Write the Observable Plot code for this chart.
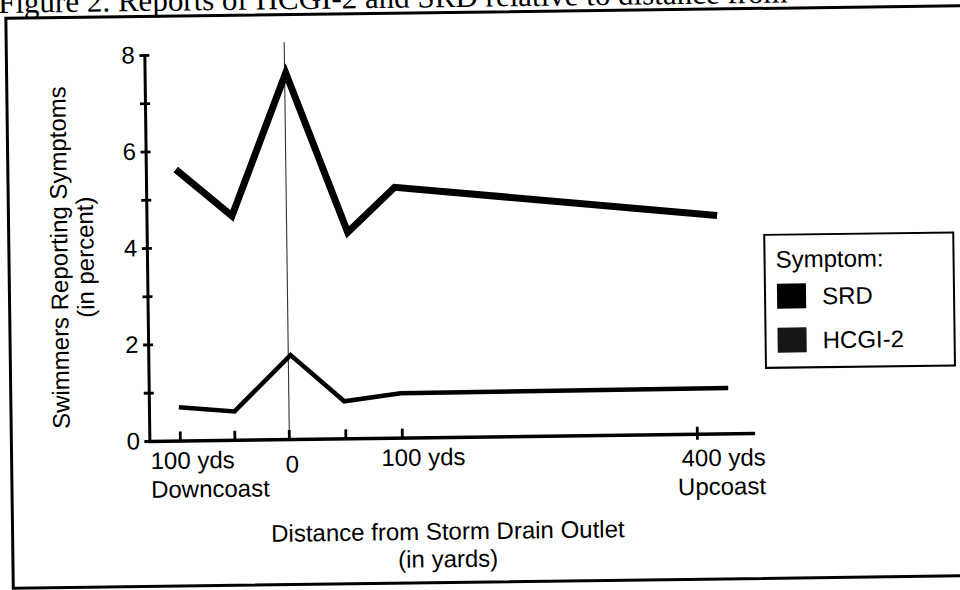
<!DOCTYPE html>
<html>
<head>
<meta charset="utf-8">
<script src="https://cdn.jsdelivr.net/npm/d3@7"></script>
<script src="https://cdn.jsdelivr.net/npm/@observablehq/plot@0.6"></script>
<style>
  html, body { margin: 0; padding: 0; background: #fff; overflow: hidden; width: 960px; height: 590px; }
  #wrap { position: relative; width: 960px; height: 590px; transform-origin: 450px 295px; transform: rotate(-0.75deg);
          font-family: "Liberation Sans", Arial, sans-serif; color: #000; }
  #title { position: absolute; left: 2px; top: -19px; font-family: "Liberation Serif", serif; font-size: 31px;
           line-height: 31px; white-space: nowrap; }
  #box { position: absolute; left: 8px; top: 11px; width: 990px; height: 573px; border: 3px solid #000; box-sizing: border-box; }
  #chart { position: absolute; left: 0; top: 0; }
  #legend { position: absolute; left: 764px; top: 238px; width: 191px; height: 135px; border: 2.5px solid #000;
            box-sizing: border-box; background: #fff; font-size: 24px; }
  #legend .lt { position: absolute; left: 10px; top: 12px; line-height: 24px; }
  #legend .sw { position: absolute; left: 11px; width: 29px; height: 25px; }
  #legend .lb { position: absolute; left: 56px; line-height: 24px; }
</style>
</head>
<body>
<div id="wrap">
  <div id="title"></div>
  <div id="box"></div>
  <div id="chart"></div>
  <div id="legend"></div>
</div>
<script>
// ---- data ----
const figureTitle = "Figure 2.  Reports of HCGI-2 and SRD relative to distance from";
const seriesNames = ["SRD", "HCGI-2"];
const swatchColors = ["#000000", "#161616"];
const srdDistance = [-101, -50, 1, 54, 96, 423];
const srdPercent = [5.63, 4.65, 7.6, 4.28, 5.2, 4.53];
const hcgiDistance = [-101, -50, 2, 49, 99, 432];
const hcgiPercent = [0.7, 0.6, 1.75, 0.78, 0.93, 0.95];
const yTickValues = [0, 1, 2, 3, 4, 5, 6, 7, 8];
const yLabelValues = [0, 2, 4, 6, 8];
const xTickValues = [-100, -50, 0, 50, 100];
const xMajorTick = [400];
const xLabelValues = [-100, 0, 100, 400];
const xLabelTexts = ["100 yds\nDowncoast", "0", "100 yds", "400 yds\nUpcoast"];
const outletDistance = [0];
const yTitle = "Swimmers Reporting Symptoms\n(in percent)";
const xTitle = "Distance from Storm Drain Outlet\n(in yards)";
const legendTitle = "Symptom:";

// ---- tables built from the arrays ----
const srdRows = srdDistance.map((d, i) => ({symptom: seriesNames[0], distance: d, percent: srdPercent[i]}));
const hcgiRows = hcgiDistance.map((d, i) => ({symptom: seriesNames[1], distance: d, percent: hcgiPercent[i]}));
const xLabelRows = xLabelValues.map((v, i) => ({distance: v, label: xLabelTexts[i]}));

document.getElementById("title").textContent = figureTitle;

const labelBase = {x: "distance", text: "label", frameAnchor: "bottom", lineAnchor: "top", lineHeight: 1.2, fontSize: 24};

const chart = Plot.plot({
  width: 960,
  height: 590,
  marginLeft: 147.5,
  marginRight: 209,
  marginTop: 51,
  marginBottom: 153,
  style: {fontFamily: "'Liberation Sans', Arial, sans-serif", fontSize: "24px", background: "transparent", color: "#000"},
  x: {type: "linear", domain: [-100, 0, 100, 400], range: [178, 287, 400, 695]},
  y: {domain: [0, 8]},
  marks: [
    Plot.ruleX(outletDistance, {stroke: "#333", strokeWidth: 1.1, insetTop: -11}),
    Plot.frame({anchor: "left", strokeWidth: 3}),
    Plot.frame({anchor: "bottom", strokeWidth: 3.5}),
    Plot.axisY(yTickValues, {tickSize: 10, dx: 5, fill: "none", label: null, strokeWidth: 2.8}),
    Plot.axisY(yLabelValues, {tickSize: 0, tickPadding: 10, label: null, fontSize: 24}),
    Plot.axisX(xTickValues, {tickSize: 9, dy: -9, fill: "none", label: null, strokeWidth: 2.8}),
    Plot.axisX(xMajorTick, {tickSize: 13, dy: -7, fill: "none", label: null, strokeWidth: 2.8}),
    Plot.text(xLabelRows.slice(0, 1), {...labelBase, textAnchor: "start", dx: -30, dy: 7.2}),
    Plot.text(xLabelRows.slice(1, 2), {...labelBase, textAnchor: "middle", dx: 2.7, dy: 12.5}),
    Plot.text(xLabelRows.slice(2, 3), {...labelBase, textAnchor: "middle", dx: 20.8, dy: 7.2}),
    Plot.text(xLabelRows.slice(3, 4), {...labelBase, textAnchor: "end", dx: 68, dy: 11.5}),
    Plot.text([yTitle], {text: d => d, frameAnchor: "left", textAnchor: "middle", lineAnchor: "middle", rotate: -90,
                         lineHeight: 26 / 24, fontSize: 24, dx: -75.3, dy: 8}),
    Plot.text([xTitle], {text: d => d, frameAnchor: "bottom", textAnchor: "middle", lineAnchor: "top",
                         lineHeight: 1.15, fontSize: 24, dx: -5, dy: 82.4}),
    Plot.line(srdRows, {x: "distance", y: "percent", stroke: "#000", strokeWidth: 7, strokeLinejoin: "miter", strokeMiterlimit: 6, strokeLinecap: "butt"}),
    Plot.line(hcgiRows, {x: "distance", y: "percent", stroke: "#000", strokeWidth: 4.5, strokeLinejoin: "miter", strokeMiterlimit: 6, strokeLinecap: "butt"})
  ]
});
document.getElementById("chart").appendChild(chart);

// legend (HTML) from the series names
const legend = document.getElementById("legend");
const lt = document.createElement("div");
lt.className = "lt"; lt.textContent = legendTitle; legend.appendChild(lt);
const swTops = [48, 92];
seriesNames.forEach((name, i) => {
  const sw = document.createElement("div");
  sw.className = "sw"; sw.style.top = swTops[i] + "px"; sw.style.background = swatchColors[i];
  legend.appendChild(sw);
  const lb = document.createElement("div");
  lb.className = "lb"; lb.style.top = (swTops[i] + 1) + "px"; lb.textContent = name;
  legend.appendChild(lb);
});
</script>
</body>
</html>
